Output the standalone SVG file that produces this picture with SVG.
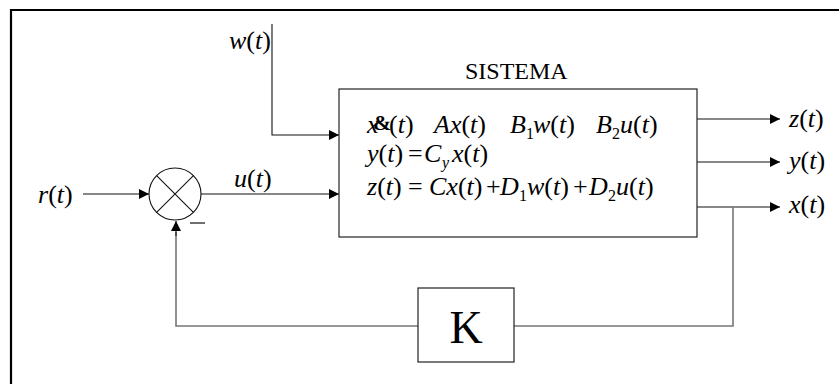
<svg xmlns="http://www.w3.org/2000/svg" width="839" height="384" viewBox="0 0 839 384">
  <style>
    .frame { fill: none; stroke: #000; stroke-width: 2.2; }
    .box { fill: #fff; stroke: #222; stroke-width: 1.2; }
    .fb { fill: none; stroke: #777; stroke-width: 1.6; }
    .arrow { fill: none; stroke: #111; stroke-width: 1.1; marker-end: url(#head); }
    text { font-family: 'Liberation Serif', 'Times New Roman', serif; fill: #000; }
    .eq { font-size: 26px; }
    .i { font-style: italic; }
    .sub { font-size: 16px; }
    .title { font-size: 24px; }
    .gainlbl { font-size: 46px; }
    .dot { font-weight: bold; font-size: 22px; }
  </style>
  <defs>
    <marker id="head" viewBox="0 0 10 10" refX="10" refY="5" markerWidth="10" markerHeight="10" markerUnits="userSpaceOnUse" orient="auto">
      <path d="M0,0 L10,5 L0,10 z" fill="#000"/>
    </marker>
  </defs>

  <!-- outer frame (left and top edges) -->
  <path class="frame" d="M11,384 V10 H839"/>

  <!-- connectors -->
  <g id="connectors">
    <path class="arrow" d="M272,24 V135 H339"/>
    <path class="arrow" d="M83,194 H149"/>
    <path class="arrow" d="M201,194 H339"/>
    <path class="arrow" d="M697,119 H780"/>
    <path class="arrow" d="M697,162 H780"/>
    <path class="arrow" d="M697,207 H780"/>
    <path class="fb" d="M733,207 V326 H514"/>
    <path class="fb" d="M418,326 H176 V232"/>
    <path class="arrow" d="M176,236 V221"/>
  </g>

  <!-- summing junction -->
  <g id="sum">
    <circle cx="175" cy="194" r="26" fill="#fff" stroke="#111" stroke-width="1.1"/>
    <path d="M156.6,175.6 L193.4,212.4 M193.4,175.6 L156.6,212.4" stroke="#111" stroke-width="1.1"/>
    <path d="M190,223 H205" stroke="#111" stroke-width="1.2"/>
  </g>

  <!-- plant block -->
  <g id="sistema">
    <text class="title" x="465" y="79">SISTEMA</text>
    <rect class="box" x="339" y="89" width="358" height="148"/>
    <!-- state equation (dot glyph drawn by the symbol font fallback) -->
    <text class="eq i" x="367" y="133">x</text>
    <text class="dot" x="373" y="130">&amp;</text>
    <text class="eq" x="389" y="133">(<tspan class="i">t</tspan>)</text>
    <text class="eq" x="434" y="133"><tspan class="i">Ax</tspan>(<tspan class="i">t</tspan>)</text>
    <text class="eq i" x="510" y="133">B</text>
    <text class="sub" x="526" y="139">1</text>
    <text class="eq" x="533" y="133"><tspan class="i">w</tspan>(<tspan class="i">t</tspan>)</text>
    <text class="eq i" x="596" y="133">B</text>
    <text class="sub" x="612" y="139">2</text>
    <text class="eq" x="620" y="133"><tspan class="i">u</tspan>(<tspan class="i">t</tspan>)</text>
    <!-- output equation -->
    <text class="eq" x="367" y="162"><tspan class="i">y</tspan>(<tspan class="i">t</tspan>)</text>
    <text class="eq" x="408" y="162">=</text>
    <text class="eq i" x="424" y="162">C</text>
    <text class="sub i" x="442" y="168">y</text>
    <text class="eq" x="452" y="162"><tspan class="i">x</tspan>(<tspan class="i">t</tspan>)</text>
    <!-- performance output -->
    <text class="eq" x="367" y="195"><tspan class="i">z</tspan>(<tspan class="i">t</tspan>)</text>
    <text class="eq" x="408" y="195">=</text>
    <text class="eq" x="429" y="195"><tspan class="i">Cx</tspan>(<tspan class="i">t</tspan>)</text>
    <text class="eq" x="486" y="195">+</text>
    <text class="eq i" x="500" y="195">D</text>
    <text class="sub" x="519" y="201">1</text>
    <text class="eq" x="527" y="195"><tspan class="i">w</tspan>(<tspan class="i">t</tspan>)</text>
    <text class="eq" x="573" y="195">+</text>
    <text class="eq i" x="589" y="195">D</text>
    <text class="sub" x="608" y="201">2</text>
    <text class="eq" x="616" y="195"><tspan class="i">u</tspan>(<tspan class="i">t</tspan>)</text>
  </g>

  <!-- feedback gain -->
  <g id="gain">
    <rect class="box" x="418" y="288" width="96" height="74"/>
    <text class="gainlbl" x="466" y="343" text-anchor="middle">K</text>
  </g>

  <!-- signal labels -->
  <g id="labels">
    <text class="eq" x="229" y="49"><tspan class="i">w</tspan>(<tspan class="i">t</tspan>)</text>
    <text class="eq" x="38" y="203"><tspan class="i">r</tspan>(<tspan class="i">t</tspan>)</text>
    <text class="eq" x="234" y="187"><tspan class="i">u</tspan>(<tspan class="i">t</tspan>)</text>
    <text class="eq" x="789" y="127"><tspan class="i">z</tspan>(<tspan class="i">t</tspan>)</text>
    <text class="eq" x="789" y="169"><tspan class="i">y</tspan>(<tspan class="i">t</tspan>)</text>
    <text class="eq" x="789" y="213"><tspan class="i">x</tspan>(<tspan class="i">t</tspan>)</text>
  </g>
</svg>
